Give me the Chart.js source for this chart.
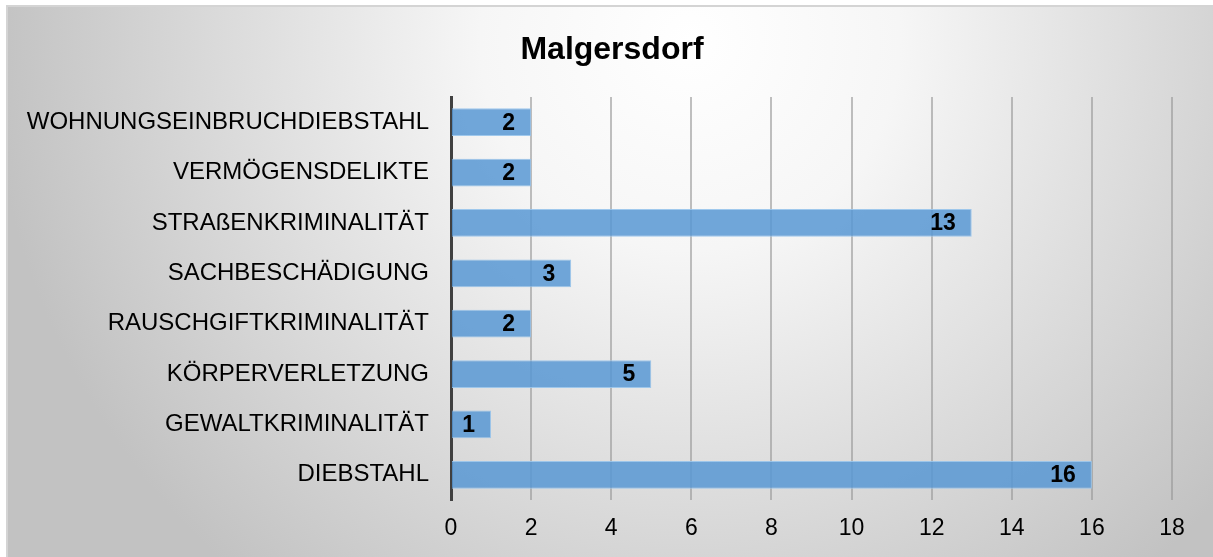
<!DOCTYPE html>
<html>
<head>
    <title>Malgersdorf</title>
    <script src="https://cdn.jsdelivr.net/npm/chart.js"></script>
    <style>
        html, body { margin: 0; padding: 0; background: #fff; }
        #chart-container { position: relative; width: 1213px; height: 557px; }
    </style>
</head>
<body>
    <div id="chart-container">
        <canvas id="bar-chart"></canvas>
    </div>

    <script>
        // Datos del gráfico
        var titulo = 'Malgersdorf';
        var categorias = [
            'WOHNUNGSEINBRUCHDIEBSTAHL',
            'VERMÖGENSDELIKTE',
            'STRAßENKRIMINALITÄT',
            'SACHBESCHÄDIGUNG',
            'RAUSCHGIFTKRIMINALITÄT',
            'KÖRPERVERLETZUNG',
            'GEWALTKRIMINALITÄT',
            'DIEBSTAHL'
        ];
        var valores = [2, 2, 13, 3, 2, 5, 1, 16];
        var ejeX = { min: 0, max: 18, paso: 2 };

        var ctx = document.getElementById('bar-chart').getContext('2d');

        // fondo con degradado y marco
        var fondo = {
            id: 'fondo',
            beforeDraw: function(chart) {
                var c = chart.ctx;
                c.save();
                c.fillStyle = '#ffffff';
                c.fillRect(0, 0, chart.width, chart.height);
                var g = c.createRadialGradient(690, 40, 0, 690, 40, 700);
                g.addColorStop(0, '#ffffff');
                g.addColorStop(0.3, '#f6f6f6');
                g.addColorStop(1, '#c2c2c2');
                c.fillStyle = g;
                c.fillRect(7, 6, chart.width - 7, chart.height - 6);
                c.strokeStyle = '#d4d4d4';
                c.lineWidth = 2;
                c.beginPath();
                c.moveTo(7, chart.height);
                c.lineTo(7, 6);
                c.lineTo(chart.width, 6);
                c.stroke();
                c.restore();
            }
        };

        // título y etiquetas de valores
        var textos = {
            id: 'textos',
            afterDatasetsDraw: function(chart) {
                var c = chart.ctx;
                c.save();
                c.fillStyle = '#000';
                c.font = 'bold 32px "Liberation Sans", Arial, sans-serif';
                c.textAlign = 'center';
                c.textBaseline = 'alphabetic';
                c.fillText(titulo, 612, 59);

                c.font = 'bold 23px "Liberation Sans", Arial, sans-serif';
                c.textAlign = 'right';
                c.textBaseline = 'middle';
                var meta = chart.getDatasetMeta(0);
                meta.data.forEach(function(bar, i) {
                    c.fillText(String(valores[i]), bar.x - 16, bar.y + 1);
                });
                c.restore();
            }
        };

        var chart = new Chart(ctx, {
            type: 'bar',
            data: {
                labels: categorias,
                datasets: [{
                    data: valores,
                    backgroundColor: 'rgba(88,152,212,0.85)',
                    borderColor: 'rgba(150,195,235,0.9)',
                    borderWidth: 1,
                    barPercentage: 0.55,
                    categoryPercentage: 1
                }]
            },
            options: {
                indexAxis: 'y',
                responsive: true,
                maintainAspectRatio: false,
                animation: false,
                layout: { padding: { top: 97, left: 7, right: 41, bottom: 0 } },
                plugins: {
                    legend: { display: false },
                    tooltip: { enabled: false },
                    title: { display: false }
                },
                scales: {
                    x: {
                        min: ejeX.min,
                        max: ejeX.max,
                        ticks: {
                            stepSize: ejeX.paso,
                            color: '#000',
                            padding: 15,
                            font: { size: 23, family: '"Liberation Sans", Arial, sans-serif' }
                        },
                        grid: {
                            color: 'rgba(150,150,150,0.6)',
                            lineWidth: 2,
                            drawTicks: false
                        },
                        border: { display: false },
                        afterFit: function(scale) { scale.height = 57; }
                    },
                    y: {
                        ticks: {
                            color: '#000',
                            padding: 22,
                            font: { size: 24, family: '"Liberation Sans", Arial, sans-serif' }
                        },
                        grid: { display: false, drawTicks: false },
                        border: { display: true, color: '#404040', width: 3 },
                        afterFit: function(scale) { scale.width = 444; }
                    }
                }
            },
            plugins: [fondo, textos]
        });
    </script>
</body>
</html>
